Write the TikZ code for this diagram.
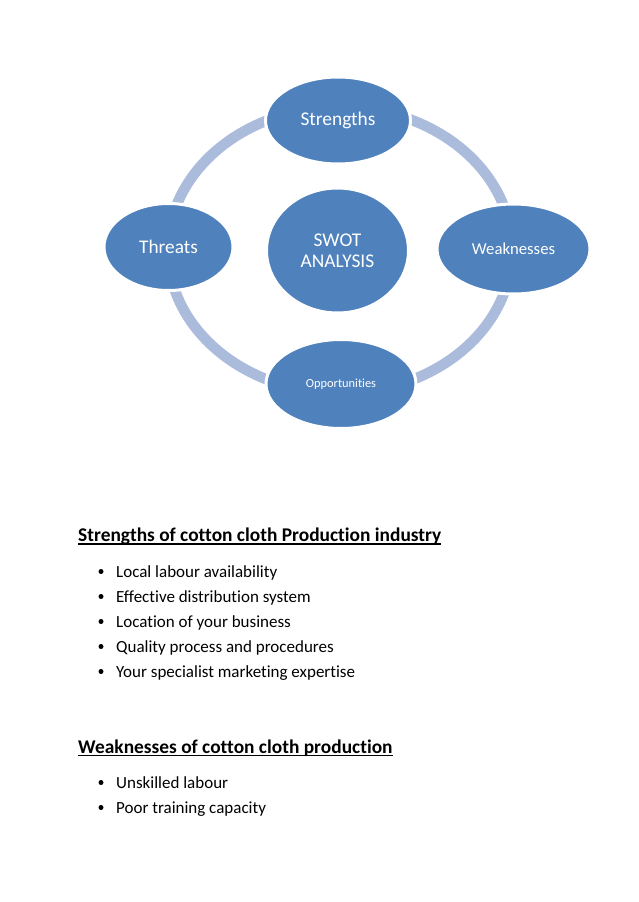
\documentclass[tikz,border=0pt]{standalone}
\usepackage{fontspec}
\setmainfont{Carlito}[Ligatures=CommonOff]
\usepackage{xcolor}
\usetikzlibrary{shapes,positioning,calc}
\definecolor{swotblue}{HTML}{4F81BD}
\definecolor{ringblue}{HTML}{AABBDB}

\begin{document}
\begin{tikzpicture}[x=1pt, y=-1pt,
    part/.style={ellipse, fill=swotblue, draw=white, line width=3pt, text=white, inner sep=0pt},
    ring/.style={draw=ringblue, line width=10.5pt},
    head/.style={anchor=base west, inner sep=0pt, font=\bfseries\fontsize{19.4}{23}\selectfont},
    item/.style={anchor=base west, inner sep=0pt, font=\fontsize{17}{20}\selectfont},
    dot/.style={circle, fill=black, inner sep=0pt, minimum size=5pt}
]
    \useasboundingbox (0,0) rectangle (638,902);
    % cycle ring behind the parts
    \coordinate (hub) at (340,250);
    \draw[ring] (hub) ellipse [x radius=172, y radius=143];

    \node[part, minimum width=145, minimum height=87, font=\fontsize{19.4}{23}\selectfont] (str) at (338,120.5) {Strengths};
    \node[part, minimum width=153, minimum height=90, font=\fontsize{16.7}{20}\selectfont] (weak) at (513.5,249) {Weaknesses};
    \node[part, minimum width=150, minimum height=89, font=\fontsize{12.4}{15}\selectfont] (opp) at (341,384) {Opportunities};
    \node[part, minimum width=129, minimum height=87, font=\fontsize{19.3}{23}\selectfont] (thr) at (168.5,247) {Threats};
    \node[part, minimum width=142, minimum height=125, align=center, font=\fontsize{19.4}{21}\selectfont] (swot) at (337.5,250.5) {SWOT\\ANALYSIS};

    % strengths list
    \node[head] (h1) at (78,541.5) {Strengths of cotton cloth Production industry};
    \draw[line width=1.3pt] ([yshift=-2.5pt]h1.base west) -- ([yshift=-2.5pt]h1.base east);
    \foreach \i/\txt in {0/Local labour availability, 1/Effective distribution system, 2/Location of your business, 3/Quality process and procedures, 4/Your specialist marketing expertise} {
        \node[dot] (sb\i) at (101,571.5+\i*25) {};
        \node[item] (s\i) at (116,577+\i*25) {\txt};
    }

    % weaknesses list
    \node[head] (h2) at (78,753) {Weaknesses of cotton cloth production};
    \draw[line width=1.3pt] ([yshift=-2.5pt]h2.base west) -- ([yshift=-2.5pt]h2.base east);
    \foreach \i/\txt in {0/Unskilled labour, 1/Poor training capacity} {
        \node[dot] (wb\i) at (101,782.5+\i*25) {};
        \node[item] (w\i) at (116,788+\i*25) {\txt};
    }
\end{tikzpicture}
\end{document}
